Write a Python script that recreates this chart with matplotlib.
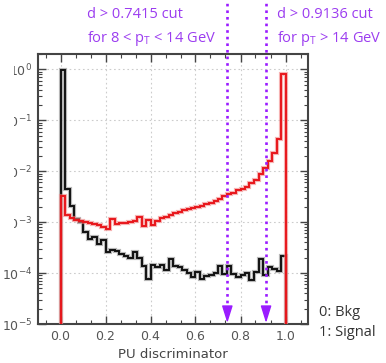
import numpy as np
import matplotlib
matplotlib.use("Agg")
import matplotlib.pyplot as plt
import matplotlib.patheffects as pe
from matplotlib.ticker import LogLocator, AutoMinorLocator, NullFormatter
from matplotlib.patches import Rectangle

plt.rcParams['mathtext.fontset'] = 'custom'
plt.rcParams['mathtext.rm'] = 'Open Sans'
plt.rcParams['mathtext.it'] = 'Open Sans:italic'

# ---- data ----
bin_edges = np.linspace(0.0, 1.0, 51)
bkg = [0.98, 4.5e-3, 2.1e-3, 1.17e-3, 1.0e-3, 6.3e-4, 4.7e-4, 5.0e-4, 3.8e-4, 4.4e-4,
       2.6e-4, 2.8e-4, 2.7e-4, 2.4e-4, 2.2e-4, 2.0e-4, 2.6e-4, 2.0e-4, 1.35e-4, 7.8e-5,
       1.45e-4, 1.3e-4, 1.45e-4, 1.15e-4, 1.85e-4, 1.4e-4, 1.3e-4, 1.15e-4, 1.0e-4, 8.5e-5,
       1.07e-4, 7.6e-5, 8.9e-5, 9.3e-5, 1.0e-4, 1.4e-4, 9.6e-5, 1.4e-4, 9.5e-5, 8.5e-5,
       9.3e-5, 1.0e-4, 7.2e-5, 1.07e-4, 1.9e-4, 9.3e-5, 1.3e-4, 1.2e-4, 1.1e-4, 2.2e-4]
sig = [3.2e-3, 1.38e-3, 1.18e-3, 1.12e-3, 1.04e-3, 1.0e-3, 9.7e-4, 9.1e-4, 8.6e-4, 8.1e-4,
       7.2e-4, 1.15e-3, 9.4e-4, 9.7e-4, 9.8e-4, 1.0e-3, 1.05e-3, 1.28e-3, 8.3e-4, 1.1e-3,
       8.7e-4, 1.04e-3, 1.18e-3, 1.28e-3, 1.35e-3, 1.48e-3, 1.55e-3, 1.73e-3, 1.8e-3, 1.87e-3,
       2.0e-3, 2.07e-3, 2.25e-3, 2.4e-3, 2.6e-3, 2.8e-3, 3.2e-3, 3.5e-3, 3.8e-3, 4.2e-3,
       4.45e-3, 5.0e-3, 5.9e-3, 6.8e-3, 8.9e-3, 1.17e-2, 1.6e-2, 2.25e-2, 4.3e-2, 0.82]
cuts = [0.7415, 0.9136]
cut_labels = ["d > 0.7415 cut\nfor 8 < $\\mathrm{p}_\\mathrm{T}$ < 14 GeV",
              "d > 0.9136 cut\nfor $\\mathrm{p}_\\mathrm{T}$ > 14 GeV"]
xticks = [0.0, 0.2, 0.4, 0.6, 0.8, 1.0]

fig = plt.figure(figsize=(3.86, 3.63), dpi=100)
ax = fig.add_axes([38/386, 1-324/363, 270/386, 270/363])

ax.set_yscale('log')
ax.set_xlim(-0.1, 1.1)
ax.set_ylim(1e-5, 2.0)

# grid
ax.grid(True, which='major', color='#cccccc', linestyle=(0, (1.5, 2.5)), linewidth=0.8)
ax.set_axisbelow(True)

# histograms
halo_k = [pe.Stroke(linewidth=3.0, foreground='#888888', alpha=0.6), pe.Normal()]
halo_r = [pe.Stroke(linewidth=3.0, foreground='#f08080', alpha=0.6), pe.Normal()]
ax.stairs(bkg, bin_edges, baseline=1e-7, color='#111111', linewidth=1.4,
          path_effects=halo_k, zorder=3)
ax.stairs(sig, bin_edges, baseline=1e-7, color='#e8161b', linewidth=1.4,
          path_effects=halo_r, zorder=4)

# ticks
ax.set_xticks(xticks)
ax.set_xticklabels([f"{v:.1f}" for v in xticks])
ax.xaxis.set_minor_locator(AutoMinorLocator(3))
ax.yaxis.set_major_locator(LogLocator(base=10, numticks=10))
ax.yaxis.set_minor_locator(LogLocator(base=10, subs=np.arange(2, 10), numticks=10))
ax.yaxis.set_minor_formatter(NullFormatter())
ax.tick_params(which='both', direction='in', top=True, right=True, color='#444444')
ax.tick_params(which='major', length=6, width=1.0, pad=4, labelsize=9, labelcolor='#555555')
ax.tick_params(which='minor', length=3, width=0.8)
for lab in ax.get_yticklabels():
    lab.set_math_fontfamily('dejavusans')
for s in ax.spines.values():
    s.set_color('#444444')
    s.set_linewidth(1.5)

ax.set_xlabel("PU discriminator", fontsize=9.5, color='#444444', labelpad=4)

# cut arrows
vcol = '#9a1cff'
for c in cuts:
    ax.plot([c, c], [0.03, 1.21], transform=ax.get_xaxis_transform(), color=vcol,
            linewidth=1.9, linestyle=(0, (1, 1.5)), clip_on=False, zorder=6)
    ax.annotate('', xy=(c, 0.004), xycoords=ax.get_xaxis_transform(),
                xytext=(0, 10.5), textcoords='offset points',
                arrowprops=dict(arrowstyle='-|>,head_length=0.7,head_width=0.22',
                                mutation_scale=15, color=vcol, linewidth=1.0,
                                shrinkA=0, shrinkB=0), zorder=7)

tcol = '#9b3cf0'
fig.text(87/386, 1-7/363, cut_labels[0], ha='left', va='top', fontsize=10.5,
         color=tcol, family='Open Sans', linespacing=1.5)
fig.text(277/386, 1-7/363, cut_labels[1], ha='left', va='top', fontsize=10.5,
         color=tcol, family='Open Sans', linespacing=1.5)

fig.text(319/386, 1-313/363, "0: Bkg", ha='left', va='center', fontsize=10.5,
         color='#333333', family='Open Sans')
fig.text(319/386, 1-333/363, "1: Signal", ha='left', va='center', fontsize=10.5,
         color='#333333', family='Open Sans')

# white mask at the left edge (reference is cropped there)
fig.patches.append(Rectangle((0, 1-250/363), 13.5/386, 250/363, transform=fig.transFigure,
                             facecolor='white', edgecolor='none', zorder=20))

fig.savefig("out.png", dpi=100)
